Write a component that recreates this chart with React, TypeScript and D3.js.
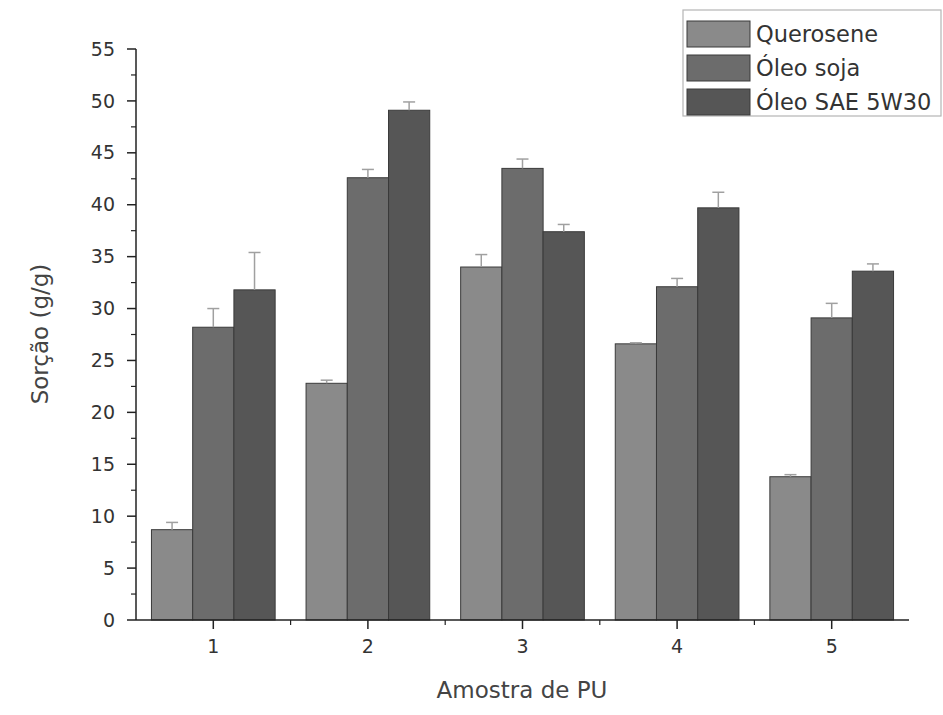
import React from "react";
import * as d3 from "d3";

const categories = ["1", "2", "3", "4", "5"];
const seriesNames = ["Querosene", "Óleo soja", "Óleo SAE 5W30"];
const querosene = [8.7, 22.8, 34.0, 26.6, 13.8];
const oleoSoja = [28.2, 42.6, 43.5, 32.1, 29.1];
const oleoSae = [31.8, 49.1, 37.4, 39.7, 33.6];
const queroseneErr = [0.7, 0.3, 1.2, 0.1, 0.2];
const oleoSojaErr = [1.8, 0.8, 0.9, 0.8, 1.4];
const oleoSaeErr = [3.6, 0.8, 0.7, 1.5, 0.7];
const yTicks = [0, 5, 10, 15, 20, 25, 30, 35, 40, 45, 50, 55];
const seriesColors = ["#8a8a8a", "#6c6c6c", "#565656"];

const W = 943;
const H = 715;
const FONT = "'DejaVu Sans', Verdana, sans-serif";

export default function App() {
  const values = [querosene, oleoSoja, oleoSae];
  const errs = [queroseneErr, oleoSojaErr, oleoSaeErr];
  const x = d3.scaleLinear().domain([0.5, 5.5]).range([136, 909]);
  const y = d3.scaleLinear().domain([0, 55]).range([620, 49]);
  const step = x(2) - x(1);
  const groupW = step * 0.8;
  const barW = groupW / 3;
  const minorY = d3.range(2.5, 55, 5);
  const minorX = d3.range(1.5, 5.5, 1);

  return (
    <svg width={W} height={H} style={{ display: "block", position: "absolute", left: 0, top: 0 }} fontFamily={FONT}>
      <rect width={W} height={H} fill="#fff" />
      {/* bars */}
      {categories.map((c, i) =>
        values.map((vals, s) => {
          const cx = x(i + 1);
          const bx = cx - groupW / 2 + s * barW;
          return (
            <rect
              key={`b-${i}-${s}`}
              x={bx}
              y={y(vals[i])}
              width={barW}
              height={y(0) - y(vals[i])}
              fill={seriesColors[s]}
              stroke="#3a3a3a"
              strokeWidth={1}
            />
          );
        })
      )}
      {/* error bars */}
      {categories.map((c, i) =>
        values.map((vals, s) => {
          const cx = x(i + 1) - groupW / 2 + (s + 0.5) * barW;
          const top = y(vals[i] + errs[s][i]);
          return (
            <g key={`e-${i}-${s}`} stroke="#a0a0a0" strokeWidth={1.5}>
              <line x1={cx} x2={cx} y1={y(vals[i])} y2={top} />
              <line x1={cx - 6} x2={cx + 6} y1={top} y2={top} />
            </g>
          );
        })
      )}
      {/* y axis */}
      <line x1={136} x2={136} y1={y(55)} y2={y(0)} stroke="#222" strokeWidth={1.5} />
      {yTicks.map((t) => (
        <g key={`yt-${t}`}>
          <line x1={127} x2={136} y1={y(t)} y2={y(t)} stroke="#222" strokeWidth={1.5} />
          <text x={115} y={y(t)} dy="0.35em" textAnchor="end" fontSize={19} fill="#333">
            {t}
          </text>
        </g>
      ))}
      {minorY.map((t) => (
        <line key={`ym-${t}`} x1={131} x2={136} y1={y(t)} y2={y(t)} stroke="#222" strokeWidth={1.2} />
      ))}
      {/* x axis */}
      <line x1={136} x2={909} y1={y(0)} y2={y(0)} stroke="#222" strokeWidth={1.5} />
      {categories.map((c, i) => (
        <g key={`xt-${c}`}>
          <line x1={x(i + 1)} x2={x(i + 1)} y1={y(0)} y2={y(0) + 9} stroke="#222" strokeWidth={1.5} />
          <text x={x(i + 1)} y={y(0) + 33} textAnchor="middle" fontSize={19} fill="#333">
            {c}
          </text>
        </g>
      ))}
      {minorX.map((t) => (
        <line key={`xm-${t}`} x1={x(t)} x2={x(t)} y1={y(0)} y2={y(0) + 5} stroke="#222" strokeWidth={1.2} />
      ))}
      {/* axis titles */}
      <text x={522} y={698} textAnchor="middle" fontSize={23} fill="#444">
        Amostra de PU
      </text>
      <text transform={`translate(48,334) rotate(-90)`} textAnchor="middle" fontSize={23} fill="#444">
        Sorção (g/g)
      </text>
      {/* legend */}
      <rect x={683} y={10} width={258} height={106} fill="#fff" stroke="#b5b5b5" strokeWidth={1.2} />
      {seriesNames.map((n, s) => (
        <g key={`lg-${s}`}>
          <rect x={687} y={21 + s * 34} width={63} height={26} fill={seriesColors[s]} stroke="#3a3a3a" strokeWidth={1} />
          <text x={756} y={34 + s * 34} dy="0.35em" fontSize={22.5} fill="#333">
            {n}
          </text>
        </g>
      ))}
    </svg>
  );
}
